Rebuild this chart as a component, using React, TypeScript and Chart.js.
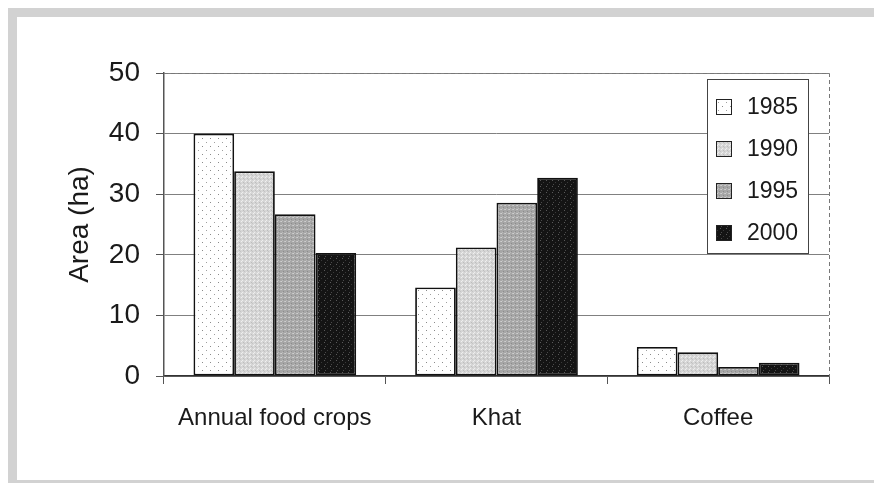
import React, { useEffect, useRef } from "react";
import { Chart, registerables } from "chart.js";

Chart.register(...registerables);

const categories = ["Annual food crops", "Khat", "Coffee"];
const years = ["1985", "1990", "1995", "2000"];
const values1985 = [40, 14.6, 4.8];
const values1990 = [33.8, 21.2, 3.9];
const values1995 = [26.7, 28.6, 1.5];
const values2000 = [20.3, 32.7, 2.2];
const yTicks = [0, 10, 20, 30, 40, 50];

function makePattern(base: string, dots: [number, number, string][], size: number) {
  const c = document.createElement("canvas");
  c.width = size;
  c.height = size;
  const ctx = c.getContext("2d")!;
  ctx.fillStyle = base;
  ctx.fillRect(0, 0, size, size);
  dots.forEach(([x, y, col]) => {
    ctx.fillStyle = col;
    ctx.fillRect(x, y, 1, 1);
  });
  const target = document.createElement("canvas").getContext("2d")!;
  return target.createPattern(c, "repeat") as CanvasPattern;
}

export default function App() {
  const ref = useRef<HTMLCanvasElement>(null);

  useEffect(() => {
    if (!ref.current) return;
    const p1985 = makePattern("#ffffff", [[1, 1, "#8a8a8a"], [5, 5, "#a0a0a0"]], 8);
    const p1990 = makePattern("#d6d6d6", [[0, 0, "#f0f0f0"], [2, 1, "#bdbdbd"], [1, 3, "#eeeeee"], [3, 2, "#c4c4c4"]], 4);
    const p1995 = makePattern("#a6a6a6", [[0, 0, "#cfcfcf"], [2, 2, "#8c8c8c"], [3, 0, "#c4c4c4"], [1, 3, "#bababa"]], 4);
    const p2000 = makePattern("#141414", [[1, 1, "#5a5a5a"], [4, 3, "#3a3a3a"], [2, 5, "#4a4a4a"]], 6);
    const patterns = [p1985, p1990, p1995, p2000];
    const series = [values1985, values1990, values1995, values2000];

    const legendPlugin = {
      id: "insideLegend",
      afterDraw(chart: any) {
        const { ctx, chartArea } = chart;
        const x0 = chartArea.right - 122;
        const y0 = chartArea.top + 6;
        const w = 101;
        const h = 174;
        ctx.save();
        ctx.fillStyle = "#ffffff";
        ctx.fillRect(x0, y0, w, h);
        ctx.strokeStyle = "#444";
        ctx.lineWidth = 1;
        ctx.strokeRect(x0 + 0.5, y0 + 0.5, w, h);
        ctx.font = "23px 'Liberation Sans', Arial, sans-serif";
        ctx.textBaseline = "middle";
        chart.data.datasets.forEach((ds: any, i: number) => {
          const cy = y0 + 28 + i * 42;
          ctx.fillStyle = ds.backgroundColor;
          ctx.fillRect(x0 + 9, cy - 8, 16, 16);
          ctx.strokeStyle = "#222";
          ctx.lineWidth = 1;
          ctx.strokeRect(x0 + 9.5, cy - 7.5, 15, 15);
          ctx.fillStyle = "#1a1a1a";
          ctx.fillText(ds.label, x0 + 40, cy + 1);
        });
        ctx.restore();
      },
    };

    const borderPlugin = {
      id: "dashedBorder",
      afterDatasetsDraw(chart: any) {
        const { ctx, chartArea } = chart;
        ctx.save();
        ctx.strokeStyle = "#777";
        ctx.lineWidth = 1;
        ctx.setLineDash([4, 3]);
        ctx.beginPath();
        ctx.moveTo(chartArea.left, chartArea.top + 0.5);
        ctx.lineTo(chartArea.right + 0.5, chartArea.top + 0.5);
        ctx.lineTo(chartArea.right + 0.5, chartArea.bottom);
        ctx.stroke();
        ctx.restore();
      },
    };

    const chart = new Chart(ref.current, {
      type: "bar",
      data: {
        labels: categories,
        datasets: years.map((y, i) => ({
          label: y,
          data: series[i],
          backgroundColor: patterns[i] as any,
          borderColor: "#111",
          borderWidth: 1.8,
          borderSkipped: false,
          categoryPercentage: 0.734,
          barPercentage: 1,
        })),
      },
      options: {
        animation: false,
        responsive: false,
        maintainAspectRatio: false,
        layout: { padding: { left: 46, right: 45, top: 56, bottom: 0 } },
        plugins: {
          legend: { display: false },
          tooltip: { enabled: false },
        },
        scales: {
          x: {
            grid: {
              display: true,
              drawOnChartArea: false,
              drawTicks: true,
              tickLength: 8,
              offset: true,
              color: "#555",
              tickColor: "#555",
            },
            border: { display: true, color: "#333", width: 1.5 },
            ticks: {
              color: "#1a1a1a",
              padding: 20,
              font: { family: "'Liberation Sans', Arial, sans-serif", size: 24 },
            },
            afterFit(scale: any) {
              scale.height = 104;
            },
          },
          y: {
            min: 0,
            max: 50,
            afterBuildTicks(scale: any) {
              scale.ticks = yTicks.map((v) => ({ value: v }));
            },
            grid: {
              color: "#808080",
              lineWidth: 1,
              tickLength: 8,
              tickColor: "#555",
            },
            border: { display: true, color: "#555", width: 1.5 },
            ticks: {
              color: "#1a1a1a",
              padding: 16,
              font: { family: "'Liberation Sans', Arial, sans-serif", size: 28 },
            },
            title: {
              display: true,
              text: "Area (ha)",
              color: "#1a1a1a",
              padding: { top: 0, bottom: 0 },
              font: { family: "'Liberation Sans', Arial, sans-serif", size: 28 },
            },
            afterFit(scale: any) {
              scale.width = 101;
            },
          },
        },
      },
      plugins: [borderPlugin, legendPlugin],
    });
    return () => chart.destroy();
  }, []);

  return (
    <div
      style={{
        position: "fixed",
        left: 8,
        top: 8,
        width: 874,
        height: 481,
        boxSizing: "border-box",
        borderTop: "9px solid #d2d2d2",
        borderLeft: "9px solid #d2d2d2",
        borderBottom: "9px solid #d2d2d2",
        background: "#fff",
      }}
    >
      <canvas ref={ref} width={857} height={463} style={{ display: "block" }} />
    </div>
  );
}
